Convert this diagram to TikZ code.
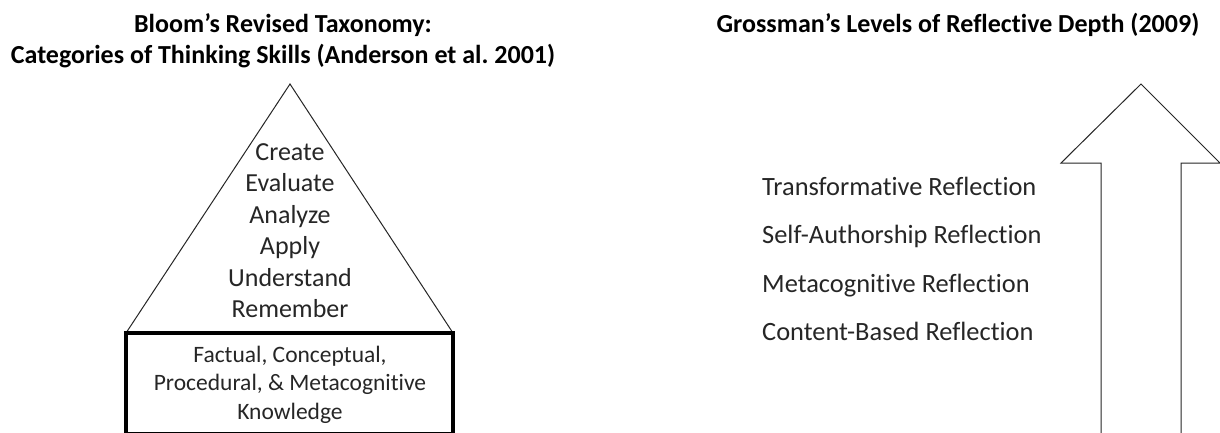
\documentclass[tikz,border=0pt]{standalone}
\usepackage{fontspec}
\setmainfont{Carlito}[Ligatures=CommonOff]
\definecolor{ink}{HTML}{262626}
\frenchspacing
\begin{document}
\begin{tikzpicture}[x=1pt,y=-1pt,
  every node/.style={inner sep=0pt, text=ink},
  titletext/.style={font=\fontsize{26}{31}\selectfont\bfseries, text=black, anchor=base},
  leveltext/.style={font=\fontsize{26}{31}\selectfont, anchor=base},
  basetext/.style={font=\fontsize{23.5}{28.5}\selectfont, anchor=base},
  depthtext/.style={font=\fontsize{26.4}{31}\selectfont, anchor=base west},
  outline/.style={draw=ink, line width=1pt, line join=miter}
]
\useasboundingbox[fill=white] (0,0) rectangle (1220,432);

% titles
\node[titletext] (t1) at (283,32) {Bloom’s Revised Taxonomy:};
\node[titletext] (t2) at (283,63) {Categories of Thinking Skills (Anderson et al.\ 2001)};
\node[titletext] (t3) at (958,32) {Grossman’s Levels of Reflective Depth (2009)};

% pyramid of thinking skills
\coordinate (apex) at (290,84);
\coordinate (bl) at (126,333);
\coordinate (br) at (453,333);
\draw[outline] (bl) -- (apex) -- (br);
\node[leveltext] (create) at (290,160) {Create};
\node[leveltext] (evaluate) at (290,191.5) {Evaluate};
\node[leveltext] (analyze) at (290,223) {Analyze};
\node[leveltext] (apply) at (290,254.5) {Apply};
\node[leveltext] (understand) at (290,286) {Understand};
\node[leveltext] (remember) at (290,317.5) {Remember};

% knowledge base
\coordinate (kr) at (453,433.5);
\draw[draw=black, line width=4pt, line join=miter] (bl) rectangle (kr);
\node[basetext] (know1) at (290,362) {Factual, Conceptual,};
\node[basetext] (know2) at (290,390.5) {Procedural, \& Metacognitive};
\node[basetext] (know3) at (290,419) {Knowledge};

% levels of reflective depth
\node[depthtext] (transf) at (762,195) {Transformative Reflection};
\node[depthtext] (selfa) at (762,243) {Self-Authorship Reflection};
\node[depthtext] (metac) at (762,292) {Metacognitive Reflection};
\node[depthtext] (content) at (762,340) {Content-Based Reflection};

% upward arrow
\draw[outline] (1101,445) -- (1101,163) -- (1061,163) -- (1141,84)
  -- (1220,163) -- (1181,163) -- (1181,445);
\end{tikzpicture}
\end{document}
